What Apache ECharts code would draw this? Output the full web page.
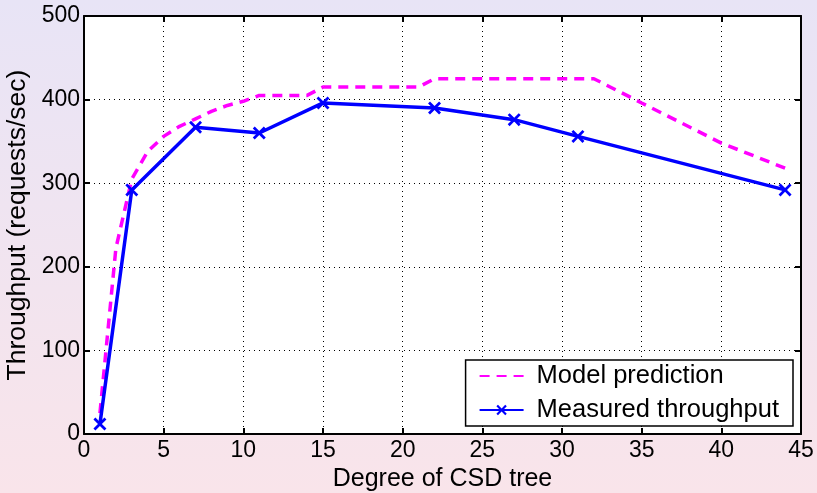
<!DOCTYPE html>
<html>
<head>
<meta charset="utf-8">
<script src="https://cdn.jsdelivr.net/npm/echarts@6/dist/echarts.min.js"></script>
<style>
  html, body { margin: 0; padding: 0; }
  body { width: 817px; height: 493px; background: linear-gradient(to bottom, #e8e4f6 0%, #f9e4ea 100%); }
  #chart { width: 817px; height: 493px; }
</style>
</head>
<body>
<div id="chart"></div>
<script>
// Model prediction: [degree, requests/sec]
const modelDegree = [1, 2, 3, 4, 5, 6, 7, 8, 9, 10, 11, 14, 15, 21, 22, 32, 35, 40, 44];
const modelThroughput = [25, 222, 305, 338, 356, 368, 377, 386, 393, 398, 405, 405, 415, 415, 425, 425, 396, 348, 318];

// Measured throughput: [degree, requests/sec]
const measuredDegree = [1, 3, 7, 11, 15, 22, 27, 31, 44];
const measuredThroughput = [12, 292, 367, 360, 396, 390, 376, 356, 292];

const xTicks = { min: 0, max: 45, interval: 5 };
const yTicks = { min: 0, max: 500, interval: 100 };

const FONT = 'Liberation Sans, Arial, Helvetica, sans-serif';
const crossPath = 'path://M0,1.5L1.5,0L5,3.5L8.5,0L10,1.5L6.5,5L10,8.5L8.5,10L5,6.5L1.5,10L0,8.5L3.5,5Z';

const zip = (xs, ys) => xs.map((x, i) => [x, ys[i]]);

const chart = echarts.init(document.getElementById('chart'), null, { renderer: 'canvas' });

const axisCommon = {
  type: 'value',
  axisLine: { show: true, onZero: false, lineStyle: { color: '#000', width: 2 } },
  axisTick: { show: true, inside: true, length: 6, lineStyle: { color: '#000', width: 2 } },
  axisLabel: { color: '#000', fontSize: 23, fontFamily: FONT },
};

chart.setOption({
  backgroundColor: 'transparent',
  animation: false,
  grid: {
    left: 84, right: 16, top: 16, bottom: 59,
    outerBoundsMode: 'none',
    containLabel: false,
    show: true, backgroundColor: '#fff', borderWidth: 0
  },
  legend: {
    orient: 'vertical',
    right: 24,
    bottom: 67,
    backgroundColor: '#fff',
    borderColor: '#000',
    borderWidth: 1.5,
    borderRadius: 0,
    padding: [3, 14, 3, 13],
    itemWidth: 44,
    itemHeight: 13,
    itemGap: 8,
    textStyle: { color: '#000', fontSize: 25.5, fontFamily: FONT, padding: [0, 0, 0, 8] },
    data: [
      { name: 'Model prediction', itemStyle: { opacity: 0 } },
      { name: 'Measured throughput' }
    ]
  },
  xAxis: [
    Object.assign({}, axisCommon, {
      position: 'bottom',
      min: xTicks.min, max: xTicks.max, interval: xTicks.interval,
      name: 'Degree of CSD tree',
      nameLocation: 'middle',
      nameGap: 31,
      nameTextStyle: { color: '#000', fontSize: 25, fontFamily: FONT },
      axisLabel: Object.assign({}, axisCommon.axisLabel, { margin: 5 }),
      splitLine: { show: true, lineStyle: { color: '#000', width: 1, type: [1, 4] } }
    }),
    Object.assign({}, axisCommon, {
      position: 'top',
      min: xTicks.min, max: xTicks.max, interval: xTicks.interval,
      axisLabel: { show: false },
      splitLine: { show: false }
    })
  ],
  yAxis: [
    Object.assign({}, axisCommon, {
      position: 'left',
      min: yTicks.min, max: yTicks.max, interval: yTicks.interval,
      name: 'Throughput (requests/sec)',
      nameLocation: 'middle',
      nameGap: 45,
      nameTextStyle: { color: '#000', fontSize: 26.5, fontFamily: FONT },
      axisLabel: Object.assign({}, axisCommon.axisLabel, { margin: 4 }),
      splitLine: { show: true, lineStyle: { color: '#000', width: 1, type: [1, 4] } }
    }),
    Object.assign({}, axisCommon, {
      position: 'right',
      min: yTicks.min, max: yTicks.max, interval: yTicks.interval,
      axisLabel: { show: false },
      splitLine: { show: false }
    })
  ],
  series: [
    {
      name: 'Model prediction',
      type: 'line',
      data: zip(modelDegree, modelThroughput),
      symbol: 'none',
      color: '#ff00ff',
      lineStyle: { color: '#ff00ff', width: 3.5, type: [10, 7] },
      z: 3
    },
    {
      name: 'Measured throughput',
      type: 'line',
      data: zip(measuredDegree, measuredThroughput),
      symbol: crossPath,
      symbolSize: 13,
      showAllSymbol: true,
      color: '#0000ff',
      itemStyle: { color: '#0000ff' },
      lineStyle: { color: '#0000ff', width: 3.5 },
      z: 4
    }
  ]
});
</script>
</body>
</html>
